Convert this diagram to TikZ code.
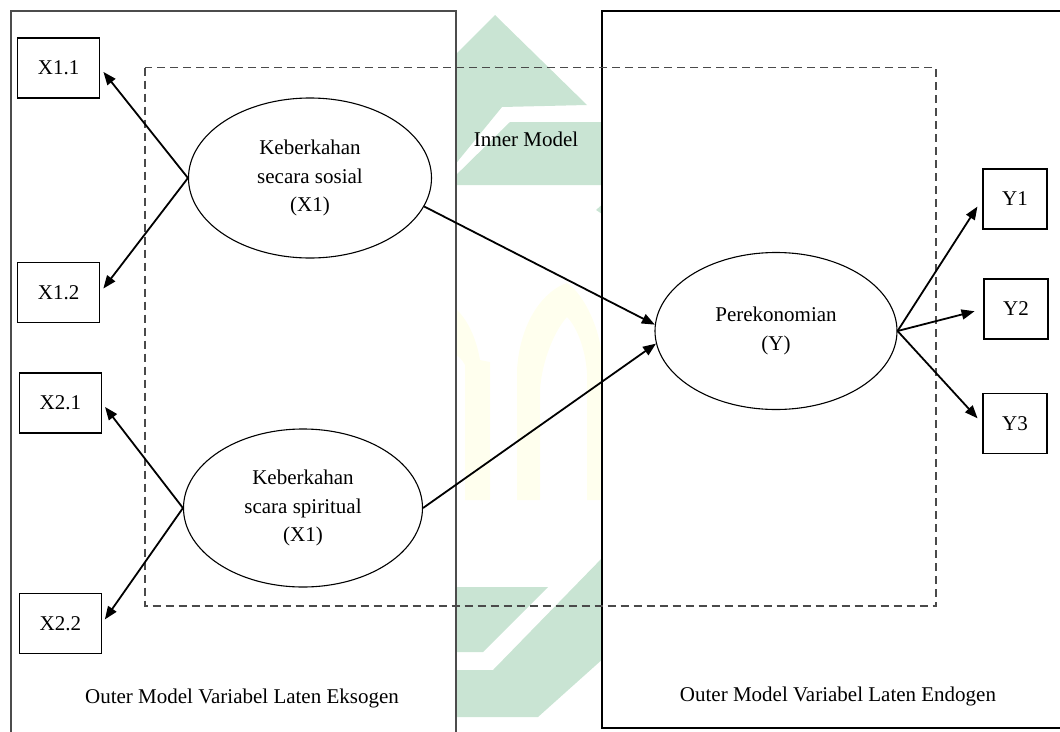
\documentclass[tikz,border=0pt]{standalone}
\usepackage{fontspec}
\setmainfont{Liberation Serif}
\usetikzlibrary{arrows.meta,shapes.geometric}
\definecolor{wmgreen}{HTML}{C9E4D3}
\definecolor{wmyellow}{HTML}{FFFFEE}
\definecolor{dashgray}{HTML}{4A4A4A}
\tikzset{
  ind/.style={draw, line width=1.4pt, minimum width=82pt, minimum height=60pt, inner sep=0pt},
  lat/.style={draw, ellipse, line width=1.1pt, minimum width=243pt, minimum height=160pt, align=center, inner sep=0pt},
  conn/.style={line width=1.8pt, -{Triangle[length=13pt,width=10pt]}},
  leftreg/.style={draw=black!70, line width=1.8pt, fill=white},
  rightreg/.style={draw=black, line width=1.5pt, fill=white},
  innerbox/.style={draw=dashgray, line width=1.7pt, dash pattern=on 8pt off 5pt},
  lbl/.style={anchor=base, inner sep=0pt}
}
\begin{document}
\begin{tikzpicture}[x=1pt, y=-1pt, font=\fontsize{21}{28.5}\selectfont]
\useasboundingbox (0,0) rectangle (1060,731);
\clip (0,0) rectangle (1060,731);
% watermark
\fill[wmgreen] (495,15) -- (587,105) -- (502,107) -- (440,183) -- (440,70) -- cycle;
\fill[wmgreen] (510,122) -- (605,122) -- (605,185) -- (446,185) -- cycle;
\fill[wmgreen] (596,210) -- (605,202) -- (605,216) -- cycle;
\fill[wmgreen] (440,587) -- (548,587) -- (483,652) -- (440,652) -- cycle;
\fill[wmgreen] (605,555) -- (605,657) -- (538,717) -- (440,717) -- (440,670) -- (493,670) -- cycle;
\fill[wmyellow] (517,500) -- (517,370) .. controls (520,320) and (545,290) .. (567,283) .. controls (585,295) and (600,330) .. (602,357) -- (602,500) -- (587,500) -- (587,373) .. controls (585,345) and (575,325) .. (567,317) .. controls (555,330) and (542,360) .. (540,390) -- (540,500) -- cycle;
\fill[wmyellow] (440,300) .. controls (460,305) and (475,330) .. (480,360) -- (490,362) -- (490,500) -- (465,500) -- (465,365) .. controls (460,355) and (450,350) .. (440,350) -- cycle;
% regions
\draw[leftreg] (11,11) rectangle (456,760);
\draw[rightreg] (602,11) rectangle (1080,728);
\draw[innerbox] (145,67.5) rectangle (936,606);
% indicators
\node[ind] (x11) at (58.6,68) {X1.1};
\node[ind] (x12) at (58.6,292.5) {X1.2};
\node[ind] (x21) at (60.3,403) {X2.1};
\node[ind] (x22) at (60.3,623.5) {X2.2};
\node[ind, minimum width=64pt] (y1) at (1015,199) {Y1};
\node[ind, minimum width=64pt] (y2) at (1016,309) {Y2};
\node[ind, minimum width=64pt] (y3) at (1015,423.5) {Y3};
% latent variables
\node[lat] (e1) at (310,178) {Keberkahan\\secara sosial\\(X1)};
\node[lat, minimum width=239pt, minimum height=158pt] (e2) at (303,508) {Keberkahan\\scara spiritual\\(X1)};
\node[lat, minimum width=242pt, minimum height=157pt] (e3) at (776,331) {Perekonomian\\(Y)};
% labels
\node[lbl] (inm) at (526,146.5) {Inner Model};
\node[lbl] (oexo) at (242,703) {Outer Model Variabel Laten Eksogen};
\node[lbl] (oendo) at (838,701) {Outer Model Variabel Laten Endogen};
% connectors
\draw[conn, shorten >=5pt] (e1.west) -- (x11.east);
\draw[conn, shorten >=5pt] (e1.west) -- (x12.east);
\draw[conn, shorten >=5pt] (e2.west) -- (x21.east);
\draw[conn, shorten >=5pt] (e2.west) -- (x22.east);
\draw[conn] (e1.-14) -- (e3.177);
\draw[conn] (e2.east) -- (e3.186);
\draw[conn, shorten >=9pt] (e3.east) -- (y1.west);
\draw[conn, shorten >=9pt] (e3.east) -- (y2.west);
\draw[conn, shorten >=7pt] (e3.east) -- (y3.west);
\end{tikzpicture}
\end{document}
